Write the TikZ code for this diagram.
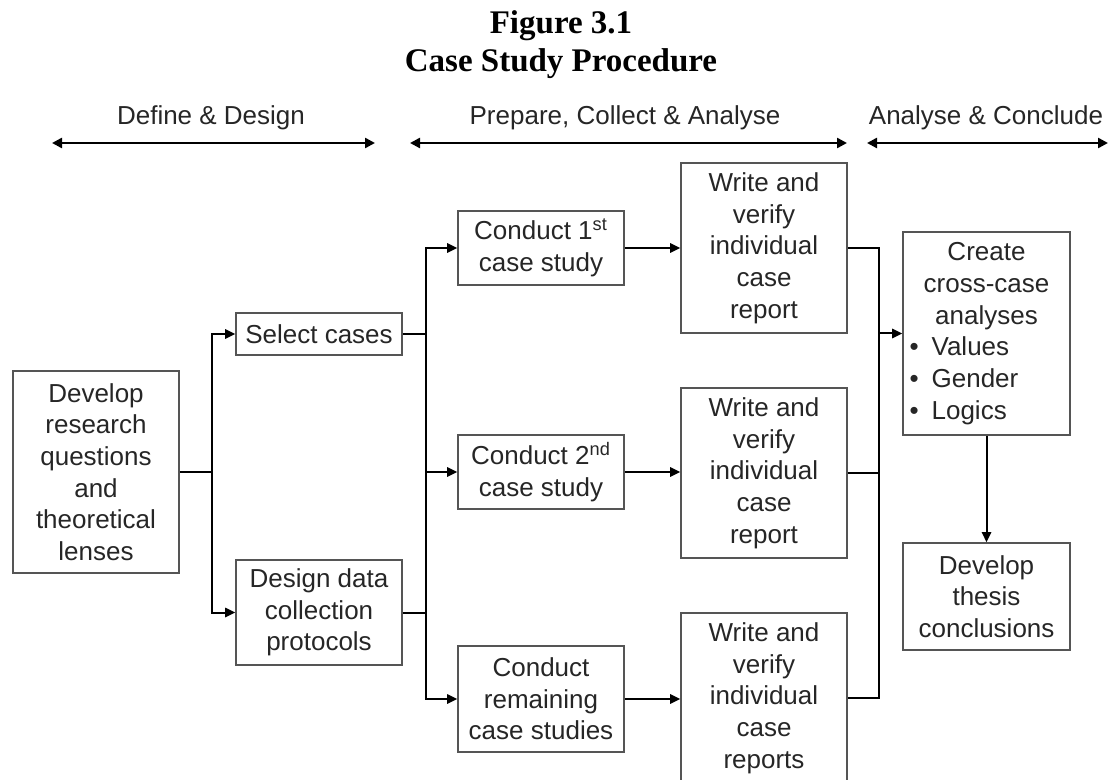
\documentclass[tikz,border=0pt]{standalone}
\usepackage{fontspec}
\setmainfont{Liberation Sans}
\newfontfamily\titlefont{Liberation Serif}
\usetikzlibrary{arrows.meta}
\definecolor{boxline}{HTML}{555555}
\definecolor{ink}{HTML}{262626}
\begin{document}
\begin{tikzpicture}[x=0.5pt,y=-0.5pt,
  body/.style={font=\fontsize{13pt}{15.85pt}\selectfont, text=ink},
  stepbox/.style={body, draw=boxline, line width=0.8pt, minimum width=83pt, inner sep=0pt, align=center},
  conn/.style={line width=1pt, draw=black},
  arr/.style={-{Triangle[length=5pt,width=4.6pt]}},
  phase/.style={line width=1.2pt, {Triangle[length=5pt,width=5pt]}-{Triangle[length=5pt,width=5pt]}},
  heading/.style={font=\titlefont\bfseries\fontsize{16.5pt}{19pt}\selectfont, anchor=base}
]
\useasboundingbox (0,0) rectangle (1118,780);

% title
\node[heading] (fig) at (561,34) {Figure 3.1};
\node[heading] (ttl) at (561,72) {Case Study Procedure};

% phase labels and their span arrows
\node[body, anchor=base] (ph1) at (211,125) {Define \& Design};
\node[body, anchor=base] (ph2) at (625,125) {Prepare, Collect \& Analyse};
\node[body, anchor=base] (ph3) at (986,125) {Analyse \& Conclude};
\coordinate (s1a) at (52,143);  \coordinate (s1b) at (375,143);
\coordinate (s2a) at (410,143); \coordinate (s2b) at (847,143);
\coordinate (s3a) at (867,143); \coordinate (s3b) at (1108,143);
\draw[phase] (s1a) -- (s1b);
\draw[phase] (s2a) -- (s2b);
\draw[phase] (s3a) -- (s3b);

% steps
\node[stepbox, minimum height=101pt] (dev) at (96,472)
  {Develop\\research\\questions\\and\\theoretical\\lenses};
\node[stepbox, minimum height=21pt] (sel) at (319,334) {Select cases};
\node[stepbox, minimum height=52.5pt] (des) at (319,612.5)
  {Design data\\collection\\protocols};
\node[stepbox, minimum height=37pt] (c1) at (541,248)
  {Conduct 1\textsuperscript{st}\\case study};
\node[stepbox, minimum height=37pt] (c2) at (541,472)
  {Conduct 2\textsuperscript{nd}\\case study};
\node[stepbox, minimum height=53pt] (c3) at (541,699)
  {Conduct\\remaining\\case studies};
\node[stepbox, minimum height=85pt] (w1) at (764,248)
  {Write and\\verify\\individual\\case\\report};
\node[stepbox, minimum height=85pt] (w2) at (764,473)
  {Write and\\verify\\individual\\case\\report};
\node[stepbox, minimum height=85pt] (w3) at (764,698)
  {Write and\\verify\\individual\\case\\reports};
\node[stepbox, minimum width=83.5pt, minimum height=101.5pt, text width=77pt, inner xsep=3pt] (cr) at (986.5,333.5)
  {\centering Create\\cross-case\\analyses\par
   \raggedright\textbullet\hspace{6.5pt}Values\\\textbullet\hspace{6.5pt}Gender\\\textbullet\hspace{6.5pt}Logics\par};
\node[stepbox, minimum width=83.5pt, minimum height=53.5pt] (th) at (986.5,596.5)
  {Develop\\thesis\\conclusions};

% junctions of the connector buses
\coordinate (j1) at (212,472);
\coordinate (j2) at (426,472);
\coordinate (j3) at (879,333.5);

% connectors
\draw[conn] (dev.east) -- (j1);
\draw[conn, arr] (j1) |- (sel.west);
\draw[conn, arr] (j1) |- (des.west);
\draw[conn] (sel.east) -| (j2);
\draw[conn] (des.east) -| (j2);
\draw[conn, arr] (j2) |- (c1.west);
\draw[conn, arr] (j2) -- (c2.west);
\draw[conn, arr] (j2) |- (c3.west);
\draw[conn, arr] (c1.east) -- (w1.west);
\draw[conn, arr] (c2.east) -- (c2.east -| w2.west);
\draw[conn, arr] (c3.east) -- (c3.east -| w3.west);
\draw[conn] (w1.east) -| (j3);
\draw[conn] (w2.east) -| (j3);
\draw[conn] (w3.east) -| (j3);
\draw[conn, arr] (j3) -- (cr.west);
\draw[conn, arr] (cr.south) -- (th.north);
\end{tikzpicture}
\end{document}
